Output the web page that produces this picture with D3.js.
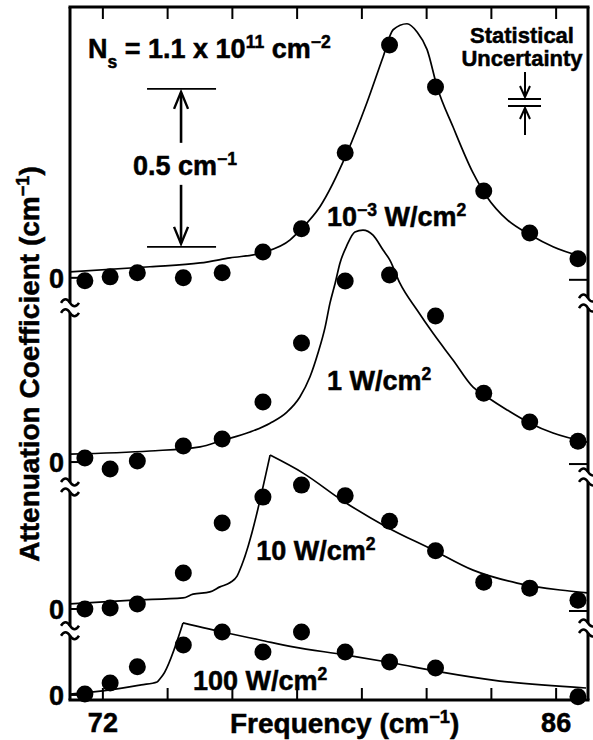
<!DOCTYPE html>
<html>
<head>
<meta charset="utf-8">
<script src="https://cdnjs.cloudflare.com/ajax/libs/d3/7.8.5/d3.min.js"></script>
<style>
body { margin: 0; background: #fff; }
svg text { font-family: "Liberation Sans", Arial, Helvetica, sans-serif; font-weight: bold; fill: #000; stroke: #000; stroke-width: 0.5px; white-space: pre; }
</style>
</head>
<body>
<svg id="chart" width="593" height="740"></svg>
<script>
// measured frequencies (cm^-1), same set for every intensity
let freqs = [71.46, 72.24, 73.08, 74.5, 75.7, 76.96, 78.15, 79.5, 80.87, 82.29, 83.78, 85.2, 86.69];

// measured attenuation (cm^-1), each one above its own zero
let pts1e3 = [-0.009, 0.003, 0.016, 0.0, 0.016, 0.082, 0.155, 0.396, 0.737, 0.604, 0.275, 0.142, 0.060];
let pts1 = [0.013, -0.022, 0.003, 0.051, 0.073, 0.190, 0.377, 0.573, 0.592, 0.462, 0.218, 0.127, 0.066];
let pts10 = [0.0, 0.003, 0.016, 0.114, 0.272, 0.354, 0.392, 0.358, 0.278, 0.184, 0.085, 0.066, 0.028];
let pts100 = [0.003, 0.038, 0.089, 0.158, 0.199, 0.136, 0.199, 0.136, 0.104, 0.085, null, null, -0.006];

// fitted curves
let fitFreq1e3 = [71.0, 73.47, 75.02, 75.94, 76.96, 77.8, 78.1, 78.72, 79.56, 80.17, 80.67, 80.98, 81.41, 81.72, 82.03, 82.34, 82.83, 83.45, 83.88, 84.5, 85.21, 85.92, 86.94];
let fit1e3 = [0.019, 0.035, 0.047, 0.063, 0.08, 0.12, 0.15, 0.225, 0.396, 0.554, 0.699, 0.785, 0.804, 0.778, 0.722, 0.604, 0.478, 0.332, 0.256, 0.184, 0.136, 0.098, 0.063];

let fitFreq1 = [71.0, 73.47, 75.02, 75.69, 76.56, 77.18, 77.7, 78.1, 78.41, 78.66, 78.88, 79.03, 79.19, 79.34, 79.56, 79.8, 80.05, 80.36, 80.67, 80.88, 81.19, 81.72, 82.21, 82.83, 83.45, 83.88, 84.5, 85.21, 85.92, 86.97];
let fit1 = [0.025, 0.035, 0.048, 0.068, 0.095, 0.123, 0.158, 0.206, 0.269, 0.345, 0.427, 0.503, 0.566, 0.63, 0.687, 0.728, 0.734, 0.718, 0.671, 0.639, 0.566, 0.481, 0.408, 0.323, 0.237, 0.206, 0.165, 0.123, 0.092, 0.063];

let fitFreq10 = [71.0, 72.95, 74.49, 74.8, 75.32, 75.63, 75.95, 76.16, 76.31, 77.18, 78.2, 79.43, 80.79, 82.21, 83.45, 84.81, 86.14, 86.97];
let fit10 = [0.016, 0.028, 0.035, 0.047, 0.054, 0.07, 0.084, 0.104, 0.14, 0.487, 0.43, 0.342, 0.259, 0.187, 0.123, 0.082, 0.060, 0.051];

let fitFreq100 = [71.0, 72.24, 73.2, 73.69, 73.78, 73.87, 74.49, 75.85, 76.87, 77.89, 79.49, 80.98, 82.43, 84.28, 86.94];
let fit100 = [0.003, 0.016, 0.032, 0.041, 0.051, 0.063, 0.228, 0.196, 0.174, 0.152, 0.127, 0.101, 0.073, 0.044, 0.022];

// where each curve's zero sits on the common scale (cm^-1)
let offsets = [1.32, 0.737, 0.272, 0];
let intensityLabels = [
    [{t: "10"}, {t: "\u22123", sup: true}, {t: " W/cm"}, {t: "2", sup: true}],
    [{t: "1 W/cm"}, {t: "2", sup: true}],
    [{t: "10 W/cm"}, {t: "2", sup: true}],
    [{t: "100 W/cm"}, {t: "2", sup: true}]
];

let xTicks = [72, 74, 76, 78, 80, 82, 84, 86];
let xTickLabels = ["72", "", "", "", "", "", "", "86"];

let svg = d3.select("#chart");
let plotLeft = 70, plotRight = 588, plotTop = 7, plotBottom = 700;

let x = d3.scaleLinear().domain([71, 87]).range([plotLeft, plotRight]);
// one cm^-1 is ~316px, the bottom zero is just above the axis
let y = d3.scaleLinear().domain([-0.016, 2.177]).range([plotBottom, plotTop]);

// text with sub / superscripts
function richText(sel, parts, size) {
    let t = sel.append("text").attr("font-size", size);
    let shift = 0;
    parts.forEach((p) => {
        let target = p.sup ? -0.37 * size : p.sub ? 0.36 * size : 0;
        t.append("tspan")
            .attr("dy", target - shift)
            .attr("font-size", (p.sup || p.sub) ? size * 0.65 : size)
            .text(p.t);
        shift = target;
    });
    return t;
}

let series = [
    {pts: pts1e3, fitF: fitFreq1e3, fit: fit1e3, kinked: false, lab: [78.94, 0.165]},
    {pts: pts1, fitF: fitFreq1, fit: fit1, kinked: false, lab: [78.94, 0.228]},
    {pts: pts10, fitF: fitFreq10, fit: fit10, kinked: true, lab: [76.75, 0.155]},
    {pts: pts100, fitF: fitFreq100, fit: fit100, kinked: true, lab: [74.8, 0.016]}
];

let g = svg.append("g");

series.forEach((s, i) => {
    let off = offsets[i];
    let line = d3.line()
        .x((d) => x(d[0]))
        .y((d) => y(off + d[1]))
        .curve(d3.curveMonotoneX);
    let fitData = s.fitF.map((f, j) => [f, s.fit[j]]);
    // sharp-cornered fits get drawn as two pieces meeting at the peak
    let pieces = [fitData];
    if (s.kinked) {
        let k = d3.maxIndex(s.fit);
        pieces = [fitData.slice(0, k + 1), fitData.slice(k)];
    }
    pieces.forEach((p) => {
        g.append("path")
            .attr("d", line(p))
            .attr("fill", "none")
            .attr("stroke", "#000")
            .attr("stroke-width", 1.7);
    });
    g.selectAll(null)
        .data(freqs.map((f, j) => [f, s.pts[j]]).filter((d) => d[1] !== null))
        .enter().append("circle")
        .attr("cx", (d) => x(d[0]))
        .attr("cy", (d) => y(off + d[1]))
        .attr("r", 8.5)
        .attr("fill", "#000");
    richText(g, intensityLabels[i], 27)
        .attr("x", x(s.lab[0]))
        .attr("y", y(off + s.lab[1]));
});

// frame with breaks in the side axes
let frame = svg.append("g").attr("stroke", "#000").attr("fill", "none").attr("stroke-width", 3);
frame.append("line").attr("x1", plotLeft).attr("x2", plotRight).attr("y1", plotTop).attr("y2", plotTop).attr("stroke-linecap", "square");
frame.append("line").attr("x1", plotLeft).attr("x2", plotRight).attr("y1", plotBottom).attr("y2", plotBottom).attr("stroke-linecap", "square");

let leftBreaks = [1.225, 0.658, 0.203];
let rightBreaks = [1.24, 0.69, 0.212];

function sideAxis(xPos, breaks) {
    let ys = [plotTop].concat(...breaks.map((b) => [y(b) - 5, y(b) + 5]), [plotBottom]);
    for (let i = 0; i < ys.length; i += 2) {
        frame.append("line").attr("x1", xPos).attr("x2", xPos).attr("y1", ys[i]).attr("y2", ys[i + 1]);
    }
    breaks.forEach((b) => {
        [-5, 5].forEach((d) => {
            frame.append("path")
                .attr("d", `M${xPos - 9},${y(b) + d} q4.5,-7 9,0 t9,0`)
                .attr("stroke-width", 2.5);
        });
    });
}
sideAxis(plotLeft, leftBreaks);
sideAxis(plotRight, rightBreaks);

// zero marks for each curve
offsets.forEach((o, i) => {
    frame.append("line").attr("x1", plotLeft).attr("x2", plotLeft + 10)
        .attr("y1", y(o)).attr("y2", y(o)).attr("stroke-width", 2);
    if (i < 3) {
        frame.append("line").attr("x1", plotRight - 19).attr("x2", plotRight)
            .attr("y1", y(o) + 2).attr("y2", y(o) + 2).attr("stroke-width", 2);
    }
    svg.append("text")
        .attr("x", 64)
        .attr("y", y(o) + 10)
        .attr("font-size", 27)
        .attr("text-anchor", "end")
        .text("0");
});

// ticks top and bottom, pointing inwards
let xAxis = svg.append("g")
    .attr("transform", `translate(0, ${plotBottom})`)
    .call(d3.axisBottom(x).tickValues(xTicks).tickSize(-12).tickPadding(13)
        .tickFormat((d, i) => xTickLabels[i]));
xAxis.select(".domain").remove();
xAxis.selectAll("line").attr("stroke-width", 2);
xAxis.selectAll("text").attr("font-size", 27);
xAxis.attr("font-family", null).attr("font-size", null);

let topAxis = svg.append("g")
    .attr("transform", `translate(0, ${plotTop})`)
    .call(d3.axisTop(x).tickValues(xTicks).tickSize(-12).tickFormat(""));
topAxis.select(".domain").remove();
topAxis.selectAll("line").attr("stroke-width", 2);

// axis titles
richText(svg, [{t: "Frequency (cm"}, {t: "\u22121", sup: true}, {t: ")"}], 28)
    .attr("x", 230)
    .attr("y", 733);
richText(svg, [{t: "Attenuation Coefficient (cm"}, {t: "\u22121", sup: true}, {t: ")"}], 28)
    .attr("text-anchor", "middle")
    .attr("transform", "translate(39, 364) rotate(-90)");

// carrier density
richText(svg, [{t: "N"}, {t: "s", sub: true}, {t: " = 1.1 x 10"}, {t: "11", sup: true}, {t: " cm"}, {t: "\u22122", sup: true}], 27)
    .attr("x", 88)
    .attr("y", 58);

// 0.5 cm^-1 scale bar
let barBase = 1.418, barLen = 0.5;
let barX = x(74.43);
let ann = svg.append("g").attr("stroke", "#000").attr("fill", "none");
[barBase, barBase + barLen].forEach((v) => {
    ann.append("line").attr("x1", barX - 34).attr("x2", barX + 35)
        .attr("y1", y(v)).attr("y2", y(v)).attr("stroke-width", 1.8);
});
let yTop = y(barBase + barLen), yBot = y(barBase);
ann.append("line").attr("x1", barX).attr("x2", barX).attr("y1", yTop + 4).attr("y2", yTop + 54).attr("stroke-width", 2.6);
ann.append("path").attr("d", `M${barX - 7},${yTop + 20} L${barX},${yTop + 3} L${barX + 7},${yTop + 20}`).attr("stroke-width", 2.4);
ann.append("line").attr("x1", barX).attr("x2", barX).attr("y1", yBot - 62).attr("y2", yBot - 4).attr("stroke-width", 2.6);
ann.append("path").attr("d", `M${barX - 7},${yBot - 20} L${barX},${yBot - 3} L${barX + 7},${yBot - 20}`).attr("stroke-width", 2.4);
richText(svg, [{t: "0.5 cm"}, {t: "\u22121", sup: true}], 27)
    .attr("x", 133)
    .attr("y", 175);

// statistical uncertainty marker
svg.append("text").attr("x", 522).attr("y", 43).attr("font-size", 22).attr("text-anchor", "middle").text("Statistical");
svg.append("text").attr("x", 522).attr("y", 66).attr("font-size", 22).attr("text-anchor", "middle").text("Uncertainty");
let ux = 525;
[99, 106].forEach((yy) => {
    ann.append("line").attr("x1", ux - 17).attr("x2", ux + 16).attr("y1", yy).attr("y2", yy).attr("stroke-width", 2);
});
ann.append("line").attr("x1", ux).attr("x2", ux).attr("y1", 72).attr("y2", 96).attr("stroke-width", 2);
ann.append("path").attr("d", `M${ux - 5},${86} L${ux},${97} L${ux + 5},${86}`).attr("stroke-width", 2);
ann.append("line").attr("x1", ux).attr("x2", ux).attr("y1", 109).attr("y2", 135).attr("stroke-width", 2);
ann.append("path").attr("d", `M${ux - 5},${119} L${ux},${108} L${ux + 5},${119}`).attr("stroke-width", 2);
</script>
</body>
</html>
